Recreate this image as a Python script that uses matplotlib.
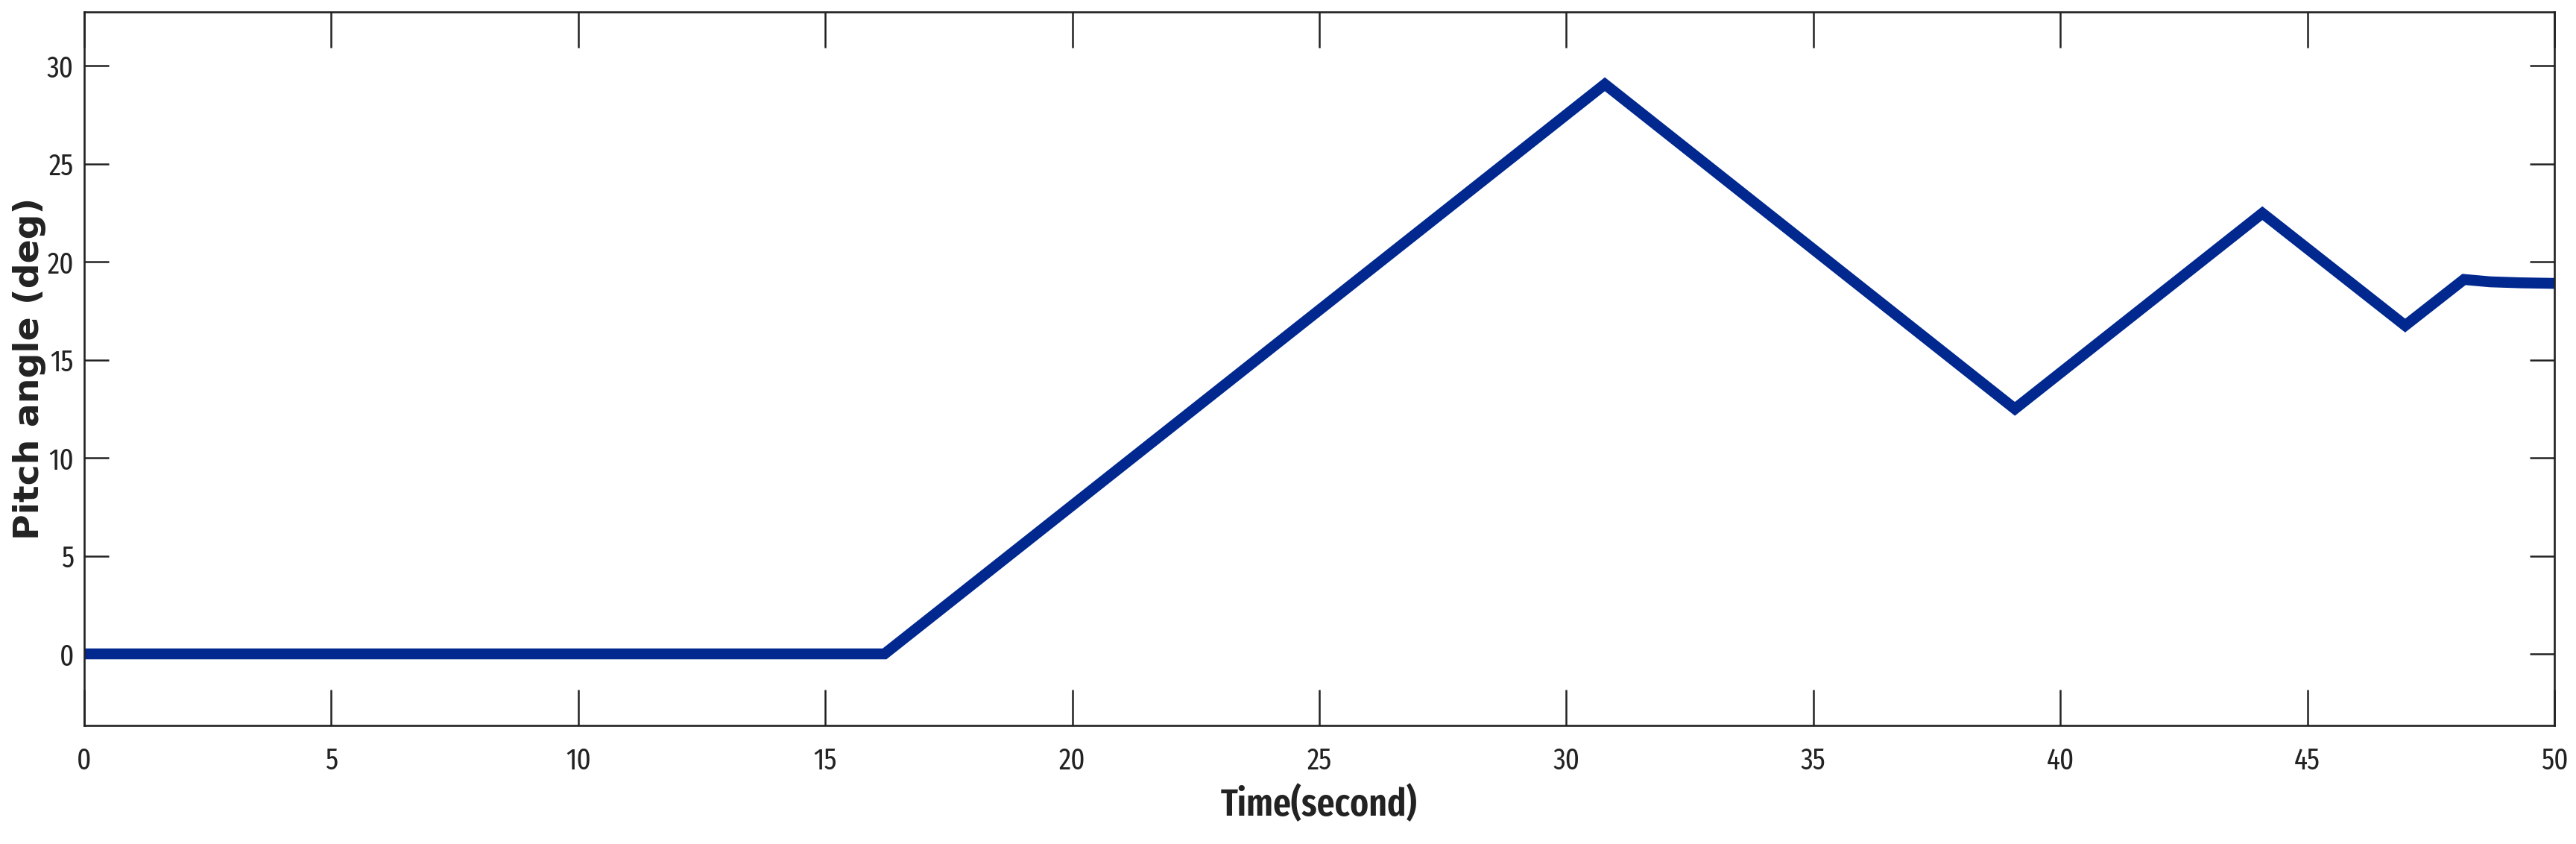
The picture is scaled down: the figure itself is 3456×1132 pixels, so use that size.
import matplotlib
matplotlib.use("Agg")
import matplotlib.pyplot as plt
from matplotlib import font_manager as fm

# Data
time_s = [0.0, 16.2, 30.78, 39.08, 44.09, 46.98, 48.17, 48.7, 49.3, 50.0]
pitch_deg = [0.0, 0.0, 29.06, 12.5, 22.48, 16.75, 19.1, 18.98, 18.93, 18.9]
x_ticks = [0, 5, 10, 15, 20, 25, 30, 35, 40, 45, 50]
y_ticks = [0, 5, 10, 15, 20, 25, 30]

installed = {f.name for f in fm.fontManager.ttflist}
narrow_pref = ["Fira Sans Extra Condensed", "Fira Sans Condensed",
               "Liberation Sans Narrow", "Liberation Sans"]
narrow = [n for n in narrow_pref if n in installed] + ["DejaVu Sans"]

fig = plt.figure(figsize=(34.56, 11.32), dpi=100)
ax = fig.add_axes([0.0327, 0.1405, 0.9589, 0.8454])

ax.plot(time_s, pitch_deg, color="#00288F", linewidth=10.5,
        solid_capstyle="butt", solid_joinstyle="miter")

ax.set_xlim(0, 50)
ax.set_ylim(-3.65, 32.75)
ax.set_xticks(x_ticks)
ax.set_yticks(y_ticks)

edge = "#222222"
for s in ax.spines.values():
    s.set_linewidth(1.9)
    s.set_color(edge)

ax.tick_params(axis="x", direction="in", top=True, bottom=True, length=34.5,
               width=1.8, color=edge, pad=20, labelsize=29, labelcolor=edge)
ax.tick_params(axis="y", direction="in", left=True, right=True, length=23.8,
               width=1.8, color=edge, pad=10, labelsize=29, labelcolor=edge)
for lab in ax.get_xticklabels() + ax.get_yticklabels():
    lab.set_family(narrow)

ax.set_xlabel("Time(second)", family=narrow, fontweight="semibold", fontsize=37,
              color=edge, labelpad=10)
ax.set_ylabel("Pitch angle (deg)", family=["DejaVu Sans"], fontweight="bold",
              fontsize=34, color=edge, labelpad=1)

fig.savefig("out.png", dpi=100, facecolor="white")
